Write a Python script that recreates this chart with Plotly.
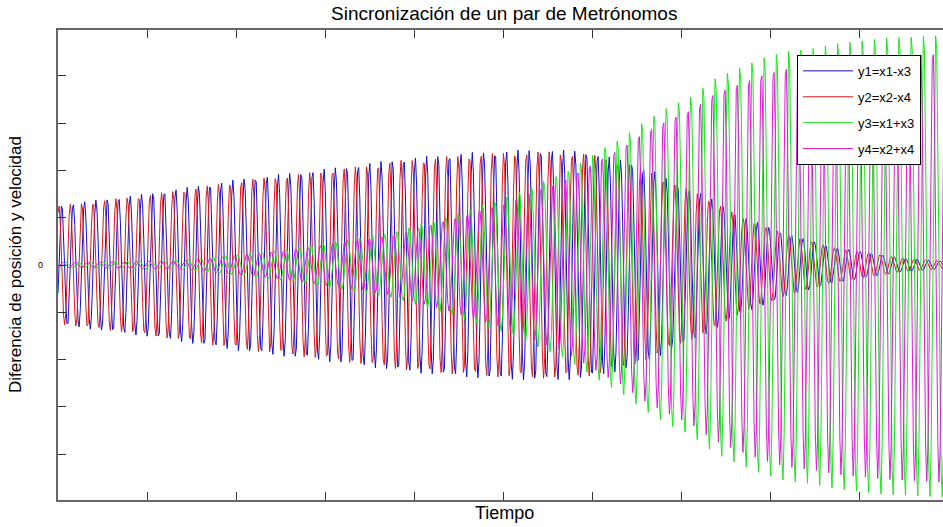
import numpy as np
import plotly.graph_objects as go

# ---- data ----
series_names = ["y1=x1-x3", "y2=x2-x4", "y3=x1+x3", "y4=x2+x4"]
series_colors = ["#1010d0", "#e01818", "#18e818", "#e018e0"]

# envelope (amplitude) of the anti-phase pair y1 / y2 at given times
t_env_12 = [0.0, 1.03, 2.15, 2.72, 3.28, 3.84, 4.40, 4.96, 5.52, 5.97, 6.45,
            6.72, 6.85, 7.13, 7.26, 7.65, 8.14, 8.70, 9.45, 9.93, 10.0]
amp_y1 = [1.27, 1.52, 1.85, 1.97, 2.10, 2.25, 2.35, 2.42, 2.45, 2.40, 2.16,
          1.97, 1.80, 1.59, 1.48, 1.05, 0.68, 0.38, 0.15, 0.08, 0.08]
amp_y2 = [1.25, 1.49, 1.81, 1.93, 2.06, 2.21, 2.30, 2.37, 2.40, 2.35, 2.12,
          1.93, 1.76, 1.56, 1.45, 1.03, 0.67, 0.37, 0.15, 0.08, 0.08]

# envelope of the in-phase pair y3 / y4
t_env_34 = [0.0, 1.40, 2.53, 3.73, 4.40, 4.96, 5.71, 6.16, 6.31, 6.57, 6.84,
            7.12, 7.37, 7.64, 7.91, 8.18, 8.46, 8.74, 9.02, 9.30, 9.58, 9.85, 10.0]
amp_y3 = [0.05, 0.10, 0.32, 0.68, 1.05, 1.40, 2.00, 2.55, 2.70, 3.07, 3.38,
          3.63, 4.00, 4.23, 4.44, 4.59, 4.65, 4.76, 4.82, 4.88, 4.90, 4.93, 4.94]
amp_y4 = [0.05, 0.09, 0.30, 0.63, 0.98, 1.30, 1.86, 2.37, 2.51, 2.86, 3.14,
          3.38, 3.72, 3.93, 4.13, 4.27, 4.33, 4.43, 4.48, 4.54, 4.56, 4.59, 4.60]

period_12 = 0.128      # oscillation period of y1/y2 (time units)
period_34 = 0.1375     # oscillation period of y3/y4
crest_12 = 0.042       # time of a y1 crest
crest_34 = 9.854       # time of a y3 crest
time_step = 0.0125
t_end = 10.0

x_ticks = list(range(1, 10))
y_ticks = [-4, -3, -2, -1, 0, 1, 2, 3, 4]

# ---- build curves ----
t = np.arange(0.0, t_end + time_step / 2, time_step)
ph12 = 2 * np.pi * (t - crest_12) / period_12
ph34 = 2 * np.pi * (t - crest_34) / period_34
curves = [
    np.interp(t, t_env_12, amp_y1) * np.cos(ph12),
    np.interp(t, t_env_12, amp_y2) * np.cos(ph12 + np.pi / 2),
    np.interp(t, t_env_34, amp_y3) * np.cos(ph34),
    np.interp(t, t_env_34, amp_y4) * np.cos(ph34 + np.pi / 2),
]

fig = go.Figure()
for i, (name, col, y) in enumerate(zip(series_names, series_colors, curves)):
    fig.add_trace(go.Scatter(x=t, y=y, mode="lines", name=name,
                             line=dict(color=col, width=1),
                             legendgroup=f"g{i}"))

FONT = "Liberation Sans, Arial, sans-serif"
fig.update_layout(
    width=943, height=527,
    margin=dict(l=58, r=0, t=30, b=27),
    paper_bgcolor="white", plot_bgcolor="white",
    font=dict(family=FONT, color="black"),
    showlegend=True,
    legend=dict(x=0.835, y=0.947, xanchor="left", yanchor="top",
                bgcolor="white", bordercolor="black", borderwidth=1,
                font=dict(size=13, family=FONT), tracegroupgap=6,
                itemwidth=50, traceorder="grouped"),
    xaxis=dict(range=[0, 9.933], showgrid=False, zeroline=False,
               showline=True, linecolor="#666", linewidth=1.5, mirror="ticks",
               ticks="inside", ticklen=8, tickcolor="#333", tickvals=x_ticks,
               showticklabels=False),
    yaxis=dict(range=[-4.97, 4.97], showgrid=False, zeroline=False,
               showline=True, linecolor="#666", linewidth=1.5,
               ticks="inside", ticklen=8, tickcolor="#333", tickvals=y_ticks,
               showticklabels=False),
    annotations=[
        dict(text="Sincronización de un par de Metrónomos", xref="paper", yref="paper",
             x=0.504, y=1.036, xanchor="center", yanchor="middle", showarrow=False,
             font=dict(size=19, family=FONT)),
        dict(text="Tiempo", xref="paper", yref="paper",
             x=0.504, y=-0.0277, xanchor="center", yanchor="middle", showarrow=False,
             font=dict(size=18, family=FONT)),
        dict(text="Diferencia de posición y velocidad", xref="paper", yref="paper",
             x=-0.0486, y=0.502, xanchor="center", yanchor="middle", showarrow=False,
             textangle=-90, font=dict(size=17, family=FONT)),
        dict(text="0", xref="paper", yref="paper",
             x=-0.0203, y=0.5, xanchor="center", yanchor="middle", showarrow=False,
             font=dict(size=9, family=FONT)),
    ],
)

fig.write_html("out.html")
